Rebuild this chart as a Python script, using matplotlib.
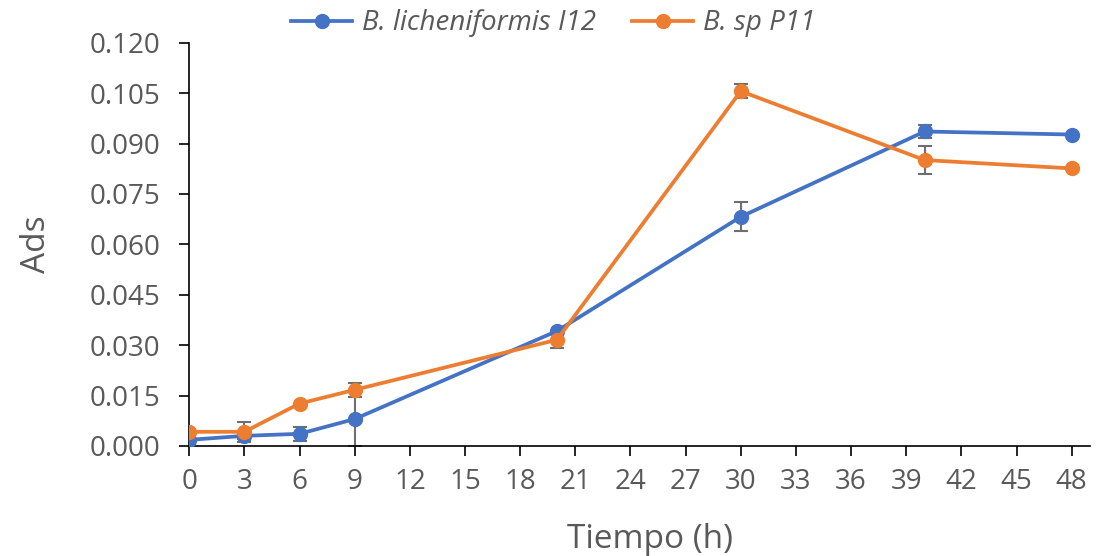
import matplotlib.pyplot as plt
from matplotlib.lines import Line2D

plt.rcParams['font.family'] = ['Open Sans', 'DejaVu Sans']

tiempo = [0, 3, 6, 9, 20, 30, 40, 48]
lich = [0.0018, 0.0030, 0.0036, 0.0080, 0.0342, 0.0682, 0.0936, 0.0927]
lich_err = [0.0, 0.0010, 0.0020, 0.0080, 0.0, 0.0043, 0.0020, 0.0]
sp = [0.0042, 0.0042, 0.0126, 0.0167, 0.0316, 0.1056, 0.0851, 0.0826]
sp_err = [0.0, 0.0030, 0.0, 0.0020, 0.0024, 0.0020, 0.0042, 0.0]

yticks = [0.000, 0.015, 0.030, 0.045, 0.060, 0.075, 0.090, 0.105, 0.120]
xticks = list(range(0, 49, 3))

blue = '#4472C4'
orange = '#ED7D31'
grey = '#595959'
fig = plt.figure(figsize=(11, 5.56), dpi=100)
ax = fig.add_axes([0.172, 0.198, 0.819, 0.725])

for y, e, c in [(lich, lich_err, blue), (sp, sp_err, orange)]:
    ax.errorbar(tiempo, y, yerr=e, fmt='none', ecolor='#6e6e6e', elinewidth=1.5,
                capsize=5, capthick=1.5, zorder=2)
    ax.plot(tiempo, y, color=c, marker='o', markersize=10, linewidth=2.7, zorder=3)

ax.set_xlim(0, 49)
ax.set_ylim(0, 0.12)
ax.set_xticks(xticks)
ax.set_yticks(yticks)
ax.set_yticklabels([f'{v:.3f}' for v in yticks])
ax.tick_params(axis='both', labelsize=20, labelcolor=grey, length=7, width=1.2, direction='out')
ax.tick_params(axis='y', pad=14)
ax.tick_params(axis='x', pad=9)
for s in ['top', 'right']:
    ax.spines[s].set_visible(False)
for s in ['left', 'bottom']:
    ax.spines[s].set_linewidth(1.2)

ax.set_xlabel('Tiempo (h)', fontsize=24, color=grey)
ax.set_ylabel('Ads', fontsize=24, color=grey, labelpad=26)
ax.xaxis.set_label_coords(0.512, -0.19)

handles = [Line2D([], [], color=blue, marker='o', markersize=10, linewidth=2.7),
           Line2D([], [], color=orange, marker='o', markersize=10, linewidth=2.7)]
leg = ax.legend(handles, ['B. licheniformis I12', 'B. sp P11'], loc='lower center',
                bbox_to_anchor=(0.404, 0.965), ncol=2, frameon=False, fontsize=20,
                handlelength=2.2, handletextpad=0.35, columnspacing=1.3, borderpad=0.2)
for t in leg.get_texts():
    t.set_color(grey)
    t.set_fontstyle('italic')

fig.savefig('out.png', dpi=100)
